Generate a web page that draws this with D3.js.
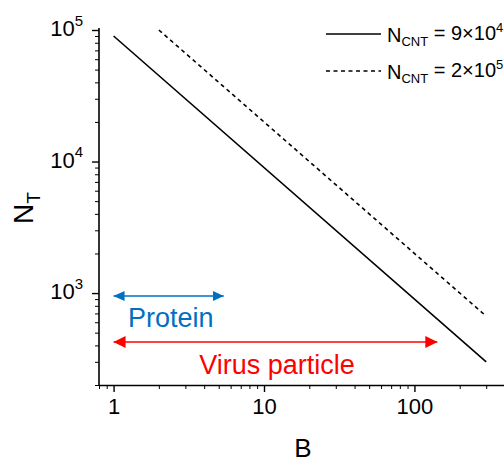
<!DOCTYPE html>
<html>
<head>
<meta charset="utf-8">
<script src="https://cdn.jsdelivr.net/npm/d3@7"></script>
<style>
  body { margin: 0; background: #fff; }
  svg { font-family: Arial, "Liberation Sans", sans-serif; }
</style>
</head>
<body>
<div id="chart"></div>
<script>
// data
var solidB = [1, 300];
var solidN = [90000, 300];
var dashedB = [2, 300];
var dashedN = [100000, 667];

var xMajor = [1, 10, 100];
var xLabels = ["1", "10", "100"];
var xMinor = [0.8, 0.9, 2, 3, 4, 5, 6, 7, 8, 9, 20, 30, 40, 50, 60, 70, 80, 90, 200, 300, 400];
var yMajor = [1000, 10000, 100000];
var yExp = ["3", "4", "5"];
var yMinor = [200, 300, 400, 500, 600, 700, 800, 900,
              2000, 3000, 4000, 5000, 6000, 7000, 8000, 9000,
              20000, 30000, 40000, 50000, 60000, 70000, 80000, 90000];

var legendNames = ["9×10", "2×10"];
var legendExp = ["4", "5"];

var proteinRange = [1, 5.4];
var virusRange = [1, 142];

var W = 504, H = 463;

var svg = d3.select("#chart")
    .append("svg")
    .attr("width", W)
    .attr("height", H);

var defs = svg.append("defs");
function marker(id, color, len, half) {
    defs.append("marker")
        .attr("id", id)
        .attr("viewBox", "0 0 " + len + " " + (half * 2))
        .attr("refX", len)
        .attr("refY", half)
        .attr("markerUnits", "userSpaceOnUse")
        .attr("markerWidth", len)
        .attr("markerHeight", half * 2)
        .attr("orient", "auto-start-reverse")
        .append("path")
        .attr("d", "M0,0 L" + len + "," + half + " L0," + (half * 2) + " Z")
        .attr("fill", color);
}
marker("headBlue", "#0070C0", 11, 5);
marker("headRed", "#FF0000", 12, 6);

var x = d3.scaleLog()
    .domain([0.8, 400])
    .range([99, 505]);

var y = d3.scaleLog()
    .domain([200, 100000])
    .range([385, 30]);

// X axis: minor then major ticks
svg.append("g")
    .attr("transform", "translate(0,385)")
    .call(d3.axisBottom(x).tickValues(xMinor).tickSize(4).tickFormat(""))
    .call(function (g) { g.select(".domain").remove(); });

var xAx = svg.append("g")
    .attr("transform", "translate(0,385)")
    .call(d3.axisBottom(x).tickValues(xMajor).tickSize(7).tickSizeOuter(0)
        .tickFormat(function (d, i) { return xLabels[i]; }));
xAx.select(".domain").attr("stroke-width", 1.6);
xAx.selectAll(".tick line").attr("stroke-width", 1.4);
xAx.selectAll(".tick text")
    .attr("font-size", 22)
    .attr("fill", "#000")
    .attr("y", 13);

// Y axis
svg.append("g")
    .attr("transform", "translate(99,0)")
    .call(d3.axisLeft(y).tickValues(yMinor).tickSize(4).tickFormat(""))
    .call(function (g) { g.select(".domain").remove(); });

var yAx = svg.append("g")
    .attr("transform", "translate(99,0)")
    .call(d3.axisLeft(y).tickValues(yMajor).tickSize(7).tickSizeOuter(0).tickFormat(""));
yAx.select(".domain").attr("stroke-width", 1.6)
    .attr("d", "M0,28V385");
yAx.selectAll(".tick line").attr("stroke-width", 1.4);

var yText = yAx.selectAll(".tick text")
    .attr("font-size", 22)
    .attr("fill", "#000")
    .attr("x", -16)
    .attr("dy", "0.25em");
yText.append("tspan").text("10");
yText.append("tspan")
    .text(function (d, i) { return yExp[i]; })
    .attr("font-size", 15)
    .attr("dy", "-0.7em");

// lines
var line = d3.line()
    .x(function (d) { return x(d[0]); })
    .y(function (d) { return y(d[1]); });

svg.append("path")
    .datum(d3.zip(solidB, solidN))
    .attr("d", line)
    .attr("fill", "none")
    .attr("stroke", "#000")
    .attr("stroke-width", 1.6);

svg.append("path")
    .datum(d3.zip(dashedB, dashedN))
    .attr("d", line)
    .attr("fill", "none")
    .attr("stroke", "#000")
    .attr("stroke-width", 1.6)
    .attr("stroke-dasharray", "4,3.5");

// annotation arrows
svg.append("line")
    .attr("x1", x(proteinRange[0])).attr("x2", x(proteinRange[1]))
    .attr("y1", 296).attr("y2", 296)
    .attr("stroke", "#0070C0")
    .attr("stroke-width", 1.6)
    .attr("marker-start", "url(#headBlue)")
    .attr("marker-end", "url(#headBlue)");

svg.append("text")
    .attr("x", x(Math.sqrt(proteinRange[0] * proteinRange[1])) + 2)
    .attr("y", 327)
    .attr("text-anchor", "middle")
    .attr("font-size", 27)
    .attr("fill", "#0070C0")
    .text("Protein");

svg.append("line")
    .attr("x1", x(virusRange[0])).attr("x2", x(virusRange[1]))
    .attr("y1", 342).attr("y2", 342)
    .attr("stroke", "#FF0000")
    .attr("stroke-width", 1.6)
    .attr("marker-start", "url(#headRed)")
    .attr("marker-end", "url(#headRed)");

svg.append("text")
    .attr("x", 277)
    .attr("y", 374)
    .attr("text-anchor", "middle")
    .attr("font-size", 27)
    .attr("fill", "#FF0000")
    .text("Virus particle");

// axis titles
svg.append("text")
    .attr("x", 303)
    .attr("y", 457)
    .attr("text-anchor", "middle")
    .attr("font-size", 26)
    .text("B");

var yt = svg.append("text")
    .attr("transform", "translate(33,208) rotate(-90)")
    .attr("text-anchor", "middle")
    .attr("font-size", 28);
yt.append("tspan").text("N");
yt.append("tspan").text("T").attr("font-size", 19).attr("dy", "0.35em");

// legend
var legY = [34, 71];
var legDash = [null, "4,3.5"];
var leg = svg.selectAll(".leg")
    .data(legendNames)
    .enter()
    .append("g")
    .attr("class", "leg")
    .attr("transform", function (d, i) { return "translate(0," + legY[i] + ")"; });

leg.append("line")
    .attr("x1", 326).attr("x2", 381)
    .attr("y1", 0).attr("y2", 0)
    .attr("stroke", "#000")
    .attr("stroke-width", 1.4)
    .attr("stroke-dasharray", function (d, i) { return legDash[i]; });

var lt = leg.append("text")
    .attr("x", 387)
    .attr("y", 8)
    .attr("font-size", 20);
lt.append("tspan").text("N");
lt.append("tspan").text("CNT").attr("font-size", 13).attr("dy", "0.3em");
lt.append("tspan").text(function (d) { return " = " + d; }).attr("dy", "-0.3em");
lt.append("tspan").text(function (d, i) { return legendExp[i]; })
    .attr("font-size", 13).attr("dy", "-0.6em");
</script>
</body>
</html>
